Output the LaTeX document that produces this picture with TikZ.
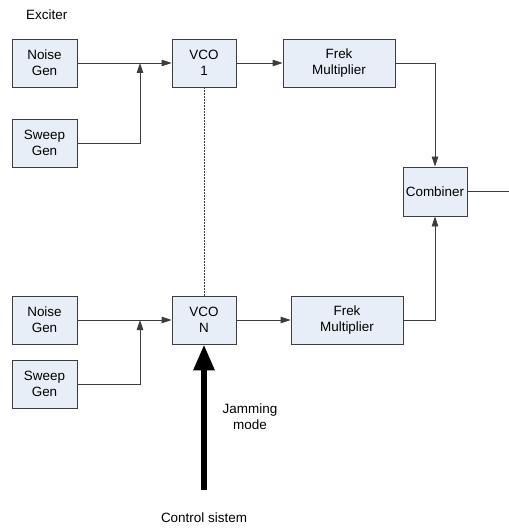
\documentclass[tikz,border=0pt]{standalone}
\usepackage{fontspec}
\setmainfont{Liberation Sans}
\usetikzlibrary{arrows.meta}
\definecolor{boxfill}{RGB}{232,238,247}
\definecolor{linegray}{RGB}{60,60,60}
\tikzset{%
  every node/.style={
    inner sep=1pt, font=\fontsize{13.5}{16}\selectfont, align=center
  },
  blockbox/.style={
    draw=linegray, line width=0.9bp, fill=boxfill,
    minimum width=65bp, minimum height=48bp
  },
  widebox/.style={blockbox, minimum width=112bp},
  sig/.style={draw=linegray, line width=0.9bp, -{Triangle[length=10bp,width=6.5bp]}},
  plain/.style={draw=linegray, line width=0.9bp}
}
\begin{document}
\begin{tikzpicture}[x=1bp,y=-1bp]
      \useasboundingbox (0,0) rectangle (509,529);
      \node[anchor=west] at (25,15) (exc) {Exciter};
      \node[blockbox] at (44.5,63) (n1) {Noise\\Gen};
      \node[blockbox] at (44.5,143) (s1) {Sweep\\Gen};
      \node[blockbox, minimum width=64bp] at (204,63) (v1) {VCO\\1};
      \node[widebox] at (339,63) (f1) {Frek\\Multiplier};
      \node[blockbox, minimum width=64bp, minimum height=49bp] at (435,191.5) (c) {Combiner};
      \node[blockbox] at (44.5,320) (n2) {Noise\\Gen};
      \node[blockbox] at (44.5,384) (s2) {Sweep\\Gen};
      \node[blockbox, minimum width=64bp] at (204,320) (vn) {VCO\\N};
      \node[widebox] at (347,320) (f2) {Frek\\Multiplier};
      \node at (250,417) (jm) {Jamming\\mode};
      \node at (204,518) (cs) {Control sistem};
      \coordinate (j1) at (140,63);
      \coordinate (j2) at (140,320);
      \coordinate (out) at (509,191.5);
      \coordinate (ctl) at (204,490);
      \draw[sig] (n1) -- (v1);
      \draw[sig] (s1) -| (j1);
      \draw[sig] (v1) -- (f1);
      \draw[sig] (f1) -| (c);
      \draw[plain] (c) -- (out);
      \draw[sig] (n2) -- (vn);
      \draw[sig] (s2) -| (j2);
      \draw[sig] (vn) -- (f2);
      \draw[sig] (f2) -| (c);
      \draw[plain, line width=0.7bp, dash pattern=on 2bp off 1bp] (v1) -- (vn);
      \draw[line width=6bp, -{Triangle[length=26bp,width=20bp]}] (ctl) -- (vn);
    \end{tikzpicture}
\end{document}
